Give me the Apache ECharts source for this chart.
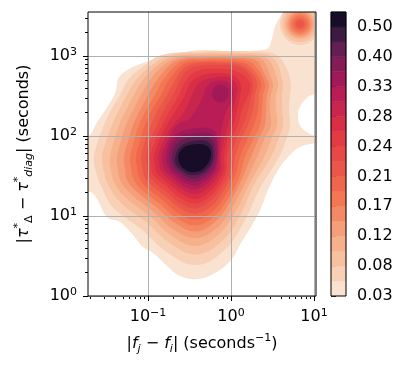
<!DOCTYPE html>
<html>
<head>
<meta charset="utf-8">
<script src="https://cdn.jsdelivr.net/npm/echarts@6/dist/echarts.min.js"></script>
<style>
html, body { margin: 0; padding: 0; background: #fff; }
#chart { width: 408px; height: 369px; }
</style>
</head>
<body>
<div id="chart"></div>
<script>
// density levels of the filled contours (colour bar boundaries)
const levels = [0.03, 0.055, 0.08, 0.10, 0.12, 0.145, 0.17, 0.19, 0.21, 0.225, 0.24, 0.26, 0.28, 0.305, 0.33, 0.365, 0.40, 0.45, 0.50, 0.56];
const cbarTickIndex = [0, 2, 4, 6, 8, 10, 12, 14, 16, 18];

const xRange = [0.0189, 10.57];
const yRange = [1, 3548];
const xMajorTicks = [0.1, 1, 10];
const xMinorTicks = [0.02, 0.03, 0.04, 0.05, 0.06, 0.07, 0.08, 0.09, 0.2, 0.3, 0.4, 0.5, 0.6, 0.7, 0.8, 0.9, 2, 3, 4, 5, 6, 7, 8, 9];
const yMajorTicks = [1, 10, 100, 1000];
const yMinorTicks = [2, 3, 4, 5, 6, 7, 8, 9, 20, 30, 40, 50, 60, 70, 80, 90, 200, 300, 400, 500, 600, 700, 800, 900, 2000, 3000];

// contour outlines, [|fj - fi|, |tau diff|]
const c00 = [[0.0152,17.8],[0.0152,89.1],[0.0200,103],[0.0236,141],[0.0295,200],[0.0358,274],[0.0412,376],[0.0435,516],[0.0543,649],[0.0801,794],[0.1395,944],[0.243,1090],[0.423,1189],[0.973,1155],[2.36,1189],[2.87,1296],[3.12,1679],[3.48,2512],[4.12,3350],[4.86,4340],[12.5,4340],[12.5,398],[8.47,307],[6.78,230],[6.42,173],[6.97,130],[8.95,106],[11.8,94.4],[11.2,84.1],[6.78,72.9],[4.86,54.6],[3.69,37.6],[2.79,21.1],[2.24,11.9],[1.74,7.29],[1.32,4.60],[1.0,2.82],[0.642,1.94],[0.400,1.63],[0.243,1.78],[0.165,2.44],[0.115,3.45],[0.087,4.10],[0.066,5.79],[0.046,8.41],[0.0321,9.72],[0.0243,16.3],[0.0200,20.0]];
const c01 = [[0.0224,54.6],[0.0250,86.6],[0.0295,137],[0.0358,211],[0.0460,326],[0.0574,501],[0.0920,772],[0.1475,1029],[0.423,1138],[1.69,1138],[2.95,1106],[3.79,972],[4.47,772],[5.00,579],[5.28,434],[5.14,326],[5.00,211],[5.14,137],[4.60,89.1],[3.79,54.6],[2.24,22.4],[1.43,8.41],[0.835,3.76],[0.389,2.44],[0.174,3.45],[0.0824,6.88],[0.0379,12.8],[0.0279,22.4],[0.0236,35.5]];
const c02 = [[0.0279,54.6],[0.0312,86.6],[0.0368,137],[0.0447,211],[0.0558,326],[0.0717,501],[0.1117,772],[0.174,1000],[0.423,1090],[1.475,1090],[2.57,1044],[3.21,944],[3.69,772],[4.00,579],[4.23,434],[4.12,326],[4.12,211],[4.23,137],[3.69,89.1],[3.03,54.6],[1.89,24.4],[1.28,10.1],[0.779,4.87],[0.384,3.30],[0.187,4.53],[0.0946,8.41],[0.0466,14.8],[0.0339,23.7],[0.0295,35.5]];
const c03 = [[0.0348,54.6],[0.0389,86.6],[0.0447,137],[0.0543,211],[0.0678,326],[0.0870,501],[0.132,772],[0.200,972],[0.423,1044],[1.284,1044],[2.24,1000],[2.79,917],[3.12,772],[3.48,579],[3.69,434],[3.48,326],[3.48,211],[3.58,137],[3.03,89.1],[2.50,54.6],[1.69,25.9],[1.149,11.7],[0.727,6.04],[0.379,4.22],[0.195,5.62],[0.1057,9.86],[0.0551,16.5],[0.0400,25.1],[0.0358,36.5]];
const c04 = [[0.0423,54.6],[0.0473,86.6],[0.0543,137],[0.0660,211],[0.0824,326],[0.1057,501],[0.156,772],[0.230,944],[0.423,1000],[1.214,1000],[2.00,958],[2.43,891],[2.64,772],[2.95,579],[3.21,434],[3.03,326],[2.95,211],[3.03,137],[2.50,89.1],[2.06,54.6],[1.516,27.4],[1.057,13.3],[0.697,7.29],[0.379,5.31],[0.203,6.78],[0.115,11.4],[0.0642,18.3],[0.0473,26.6],[0.0435,37.6]];
const c05 = [[0.0514,54.6],[0.0574,86.6],[0.0660,137],[0.0801,211],[0.100,326],[0.128,501],[0.184,772],[0.257,917],[0.423,958],[1.117,958],[1.79,917],[2.115,841],[2.24,772],[2.57,579],[2.87,434],[2.715,326],[2.64,211],[2.57,137],[2.115,89.1],[1.74,54.6],[1.357,29.0],[0.973,15.0],[0.660,8.66],[0.379,6.40],[0.2115,8.18],[0.1266,12.9],[0.0737,20.0],[0.0558,28.2],[0.0528,38.7]];
const c06 = [[0.0607,54.6],[0.0678,86.6],[0.0779,137],[0.0946,211],[0.1214,326],[0.1516,501],[0.2175,772],[0.287,891],[0.423,917],[1.028,917],[1.603,866],[1.893,772],[2.30,596],[2.57,434],[2.43,326],[2.36,211],[2.24,137],[1.84,89.1],[1.475,54.6],[1.248,29.9],[0.920,16.5],[0.633,10.0],[0.379,7.61],[0.2205,9.44],[0.1357,14.5],[0.0824,21.8],[0.0660,29.9],[0.0624,39.8]];
const c07 = [[0.0717,54.6],[0.0801,86.6],[0.0920,137],[0.1117,211],[0.1434,326],[0.179,501],[0.257,772],[0.321,841],[0.423,866],[0.920,866],[1.357,829],[1.603,772],[2.00,613],[2.30,447],[2.175,326],[2.115,211],[1.893,137],[1.559,89.1],[1.284,54.6],[1.117,31.6],[0.859,18.3],[0.607,11.5],[0.379,9.04],[0.230,10.9],[0.1454,16.3],[0.0920,23.7],[0.0779,30.7],[0.0737,41.0]];
const c08 = [[0.0824,54.6],[0.0920,86.6],[0.1087,137],[0.132,211],[0.1694,326],[0.2115,501],[0.2715,708],[0.400,818],[0.847,818],[1.32,772],[1.74,631],[2.06,460],[1.946,326],[1.84,211],[1.603,137],[1.32,89.1],[1.117,54.6],[1.028,33.5],[0.801,20.2],[0.582,13.3],[0.379,10.7],[0.236,12.8],[0.158,18.0],[0.1043,25.5],[0.0895,31.6],[0.0847,42.2]];
const c09 = [[0.0946,54.6],[0.1057,86.6],[0.1284,137],[0.156,211],[0.200,326],[0.250,531],[0.312,688],[0.423,761],[0.737,772],[1.057,761],[1.475,668],[1.79,501],[1.84,376],[1.74,307],[1.603,211],[1.395,137],[1.149,89.1],[1.0,54.6],[0.946,34.5],[0.758,22.1],[0.5585,15.4],[0.374,12.4],[0.243,14.5],[0.167,20.0],[0.115,27.4],[0.100,33.5],[0.0973,43.4]];
const c10 = [[0.1057,54.6],[0.1214,86.6],[0.1475,137],[0.184,211],[0.236,326],[0.287,501],[0.3685,631],[0.514,688],[0.847,688],[1.284,613],[1.648,473],[1.694,376],[1.559,299],[1.357,211],[1.214,137],[1.0,89.1],[0.895,54.6],[0.870,35.5],[0.717,24.1],[0.543,17.3],[0.374,14.3],[0.250,16.5],[0.179,22.1],[0.1266,29.4],[0.1117,35.5],[0.1087,44.7]];
const c11 = [[0.1181,54.6],[0.1357,86.6],[0.1694,137],[0.2175,211],[0.279,326],[0.330,473],[0.423,562],[0.5585,604],[0.847,604],[1.149,546],[1.32,422],[1.284,326],[1.181,211],[1.057,137],[0.895,89.1],[0.824,54.6],[0.824,37.6],[0.678,25.9],[0.528,19.4],[0.374,16.3],[0.260,18.6],[0.189,24.1],[0.1395,31.2],[0.1248,36.5],[0.1214,44.7]];
const c12 = [[0.132,54.6],[0.156,89.1],[0.200,137],[0.2715,200],[0.339,326],[0.400,447],[0.514,516],[0.737,546],[0.973,531],[1.181,422],[1.149,307],[1.057,211],[0.920,137],[0.824,89.1],[0.758,54.6],[0.758,38.7],[0.642,28.2],[0.507,21.8],[0.374,18.8],[0.268,20.8],[0.200,26.2],[0.154,33.5],[0.1395,38.7],[0.1357,46.0]];
const c13 = [[0.1475,54.6],[0.174,89.1],[0.2236,137],[0.321,168],[0.400,237],[0.460,316],[0.500,398],[0.590,473],[0.758,494],[0.946,460],[1.057,365],[1.0,266],[0.870,200],[0.801,150],[0.758,112],[0.737,77.2],[0.717,54.6],[0.717,39.8],[0.607,30.3],[0.493,24.4],[0.3685,21.4],[0.2715,23.4],[0.2115,28.6],[0.167,35.5],[0.154,41.0]];
const c14a = [[0.165,54.6],[0.206,100],[0.379,126],[0.624,116],[0.697,72.9],[0.660,41.0],[0.582,32.6],[0.479,27.0],[0.3685,24.1],[0.279,25.9],[0.2236,30.7],[0.182,37.6]];
const c14b = [[0.590,345],[0.633,410],[0.747,440],[0.883,410],[0.933,340],[0.870,282],[0.737,262],[0.624,286]];
const c15 = [[0.179,54.6],[0.2205,93.1],[0.389,109],[0.607,103],[0.678,66.8],[0.642,42.2],[0.5585,34.5],[0.466,29.4],[0.3685,26.6],[0.287,28.2],[0.233,33.0],[0.1946,38.7]];
const c16 = [[0.1946,54.6],[0.236,84.1],[0.389,97.2],[0.574,91.7],[0.642,63.1],[0.5985,43.4],[0.536,36.5],[0.454,32.1],[0.3685,29.4],[0.291,31.2],[0.243,35.5],[0.2086,41.0]];
const c17 = [[0.2115,53.1],[0.250,75.0],[0.389,87.9],[0.543,82.9],[0.607,61.3],[0.574,44.7],[0.514,38.7],[0.447,34.5],[0.3685,32.6],[0.299,33.5],[0.253,37.6],[0.2205,42.8]];
const c18 = [[0.230,53.1],[0.264,70.8],[0.389,79.4],[0.514,75.0],[0.574,59.6],[0.500,42.2],[0.379,35.5],[0.2715,38.7]];

// small blob in the upper right corner: [xMin, xMax, yMin, yMax] per ring
const blobRings = [[3.89,11.8,1372,4597],[4.17,11.0,1496,4217],[4.47,10.3,1631,3868],[4.73,9.73,1728,3652],[5.00,9.20,1831,3447],[5.28,8.70,1939,3255],[5.66,8.12,2084,3028],[6.07,7.58,2239,2818]];
const blobBands = [1, 2, 3, 4, 5, 6, 7, 8];

// rocket_r colours, one per band
const bandColors = ['#F9E2D0','#F8D0B6','#F7C09F','#F6B08C','#F59E7A','#F48A65','#F37752','#EF664D','#EA564A','#E74947','#E33A43','#D82E46','#C9264D','#B81D55','#A11959','#851C58','#631E52','#3C1A41','#170D28'];

const contourShapes = [
  { band: 0, points: c00 }, { band: 1, points: c01 }, { band: 2, points: c02 },
  { band: 3, points: c03 }, { band: 4, points: c04 }, { band: 5, points: c05 },
  { band: 6, points: c06 }, { band: 7, points: c07 }, { band: 8, points: c08 },
  { band: 9, points: c09 }, { band: 10, points: c10 }, { band: 11, points: c11 },
  { band: 12, points: c12 }, { band: 13, points: c13 }, { band: 14, points: c14a },
  { band: 14, points: c14b }, { band: 15, points: c15 }, { band: 16, points: c16 },
  { band: 17, points: c17 }, { band: 18, points: c18 }
];

const FONT = 'DejaVu Sans';
const powRich = {
  b: { fontSize: 16, fontFamily: FONT, color: '#000', lineHeight: 18 },
  s: { fontSize: 11, fontFamily: FONT, color: '#000', lineHeight: 10, verticalAlign: 'top' }
};
const powLabel = (v) => {
  const e = Math.round(Math.log10(v));
  return '{b|10}{s|' + (e < 0 ? '\u2212' + (-e) : e) + '}';
};
const nameRich = {
  b: { fontSize: 16, fontFamily: FONT, color: '#000', lineHeight: 22 },
  i: { fontSize: 16, fontFamily: FONT, fontStyle: 'italic', color: '#000', lineHeight: 22 },
  sup: { fontSize: 11, fontFamily: FONT, color: '#000', lineHeight: 10, verticalAlign: 'top' },
  sub: { fontSize: 11, fontFamily: FONT, color: '#000', lineHeight: 12, verticalAlign: 'bottom' },
  subi: { fontSize: 11, fontFamily: FONT, fontStyle: 'italic', color: '#000', lineHeight: 12, verticalAlign: 'bottom' }
};
const gridLine = { show: true, lineStyle: { color: '#b0b0b0', width: 1 } };
const tickStyle = { color: '#000', width: 1 };

const chart = echarts.init(document.getElementById('chart'));

const renderContour = (params, api) => {
  const s = contourShapes[params.dataIndex];
  return {
    type: 'polygon',
    shape: { points: s.points.map(p => api.coord(p)), smooth: 0.4 },
    style: { fill: bandColors[s.band] }
  };
};

const renderBlob = (params, api) => {
  const r = blobRings[params.dataIndex];
  const a = api.coord([r[0], r[3]]);
  const b = api.coord([r[1], r[2]]);
  const rx = (b[0] - a[0]) / 2;
  const ry = (b[1] - a[1]) / 2;
  return {
    type: 'circle',
    x: (a[0] + b[0]) / 2,
    y: (a[1] + b[1]) / 2,
    scaleY: ry / rx,
    shape: { cx: 0, cy: 0, r: rx },
    style: { fill: bandColors[blobBands[params.dataIndex]] }
  };
};

const renderCbar = (params, api) => {
  const k = params.dataIndex;
  const a = api.coord([0, k]);
  const b = api.coord([1, k + 1]);
  return {
    type: 'rect',
    shape: { x: a[0], y: b[1], width: b[0] - a[0], height: a[1] - b[1] },
    style: { fill: bandColors[k], stroke: bandColors[k], lineWidth: 0.5 }
  };
};

const option = {
  animation: false,
  backgroundColor: '#fff',
  grid: [
    { left: 88, top: 12, width: 228, height: 284, show: true, z: 10, backgroundColor: 'transparent', borderColor: '#000', borderWidth: 1, containLabel: false, outerBoundsMode: 'none' },
    { left: 331, top: 12, width: 15, height: 284, show: true, z: 10, backgroundColor: 'transparent', borderColor: '#000', borderWidth: 1, containLabel: false, outerBoundsMode: 'none' }
  ],
  xAxis: [
    {
      type: 'log', gridIndex: 0, position: 'bottom', min: xRange[0], max: xRange[1], z: 5,
      axisLine: { show: false },
      axisTick: { show: true, customValues: xMajorTicks, length: 5, lineStyle: tickStyle },
      axisLabel: { customValues: xMajorTicks, formatter: powLabel, rich: powRich, margin: 12 },
      splitLine: gridLine,
      name: '{b||}{i|f}{subi|j}{b| \u2212 }{i|f}{subi|i}{b|| (seconds}{sup|\u22121}{b|)}',
      nameLocation: 'middle', nameGap: 37, nameMoveOverlap: false,
      nameTextStyle: { rich: nameRich }
    },
    {
      type: 'log', gridIndex: 0, position: 'bottom', min: xRange[0], max: xRange[1],
      axisLine: { show: false },
      axisTick: { show: true, customValues: xMinorTicks, length: 3, lineStyle: tickStyle },
      axisLabel: { show: false },
      splitLine: { show: false }
    },
    { type: 'value', gridIndex: 1, min: 0, max: 1, show: false, splitLine: { show: false } }
  ],
  yAxis: [
    {
      type: 'log', gridIndex: 0, position: 'left', min: yRange[0], max: yRange[1], z: 5,
      axisLine: { show: false },
      axisTick: { show: true, customValues: yMajorTicks, length: 5, lineStyle: tickStyle },
      axisLabel: { customValues: yMajorTicks, formatter: powLabel, rich: powRich, margin: 11 },
      splitLine: gridLine,
      name: '{b||}{i|\u03c4}{sup|*}{sub|\u0394}{b| \u2212 }{i|\u03c4}{sup|*}{subi|diag}{b|| (seconds)}',
      nameLocation: 'middle', nameGap: 53, nameRotate: 90, nameMoveOverlap: false,
      nameTextStyle: { rich: nameRich }
    },
    {
      type: 'log', gridIndex: 0, position: 'left', min: yRange[0], max: yRange[1],
      axisLine: { show: false },
      axisTick: { show: true, customValues: yMinorTicks, length: 3, lineStyle: tickStyle },
      axisLabel: { show: false },
      splitLine: { show: false }
    },
    {
      type: 'value', gridIndex: 1, position: 'right', min: 0, max: levels.length - 1,
      axisLine: { show: false },
      axisTick: { show: true, customValues: cbarTickIndex, length: 5, lineStyle: tickStyle },
      axisLabel: {
        customValues: cbarTickIndex, margin: 11,
        formatter: (v) => levels[v].toFixed(2),
        fontSize: 16, fontFamily: FONT, color: '#000'
      },
      splitLine: { show: false }
    }
  ],
  series: [
    {
      type: 'custom', xAxisIndex: 0, yAxisIndex: 0, clip: true, silent: true,
      data: contourShapes.map(s => s.points[0]),
      renderItem: renderContour
    },
    {
      type: 'custom', xAxisIndex: 0, yAxisIndex: 0, clip: true, silent: true,
      data: blobRings,
      encode: { x: [0, 1], y: [2, 3] },
      renderItem: renderBlob
    },
    {
      type: 'custom', xAxisIndex: 2, yAxisIndex: 2, silent: true,
      data: bandColors.map((c, k) => [0.5, k + 0.5]),
      renderItem: renderCbar
    }
  ]
};

chart.setOption(option);
</script>
</body>
</html>
